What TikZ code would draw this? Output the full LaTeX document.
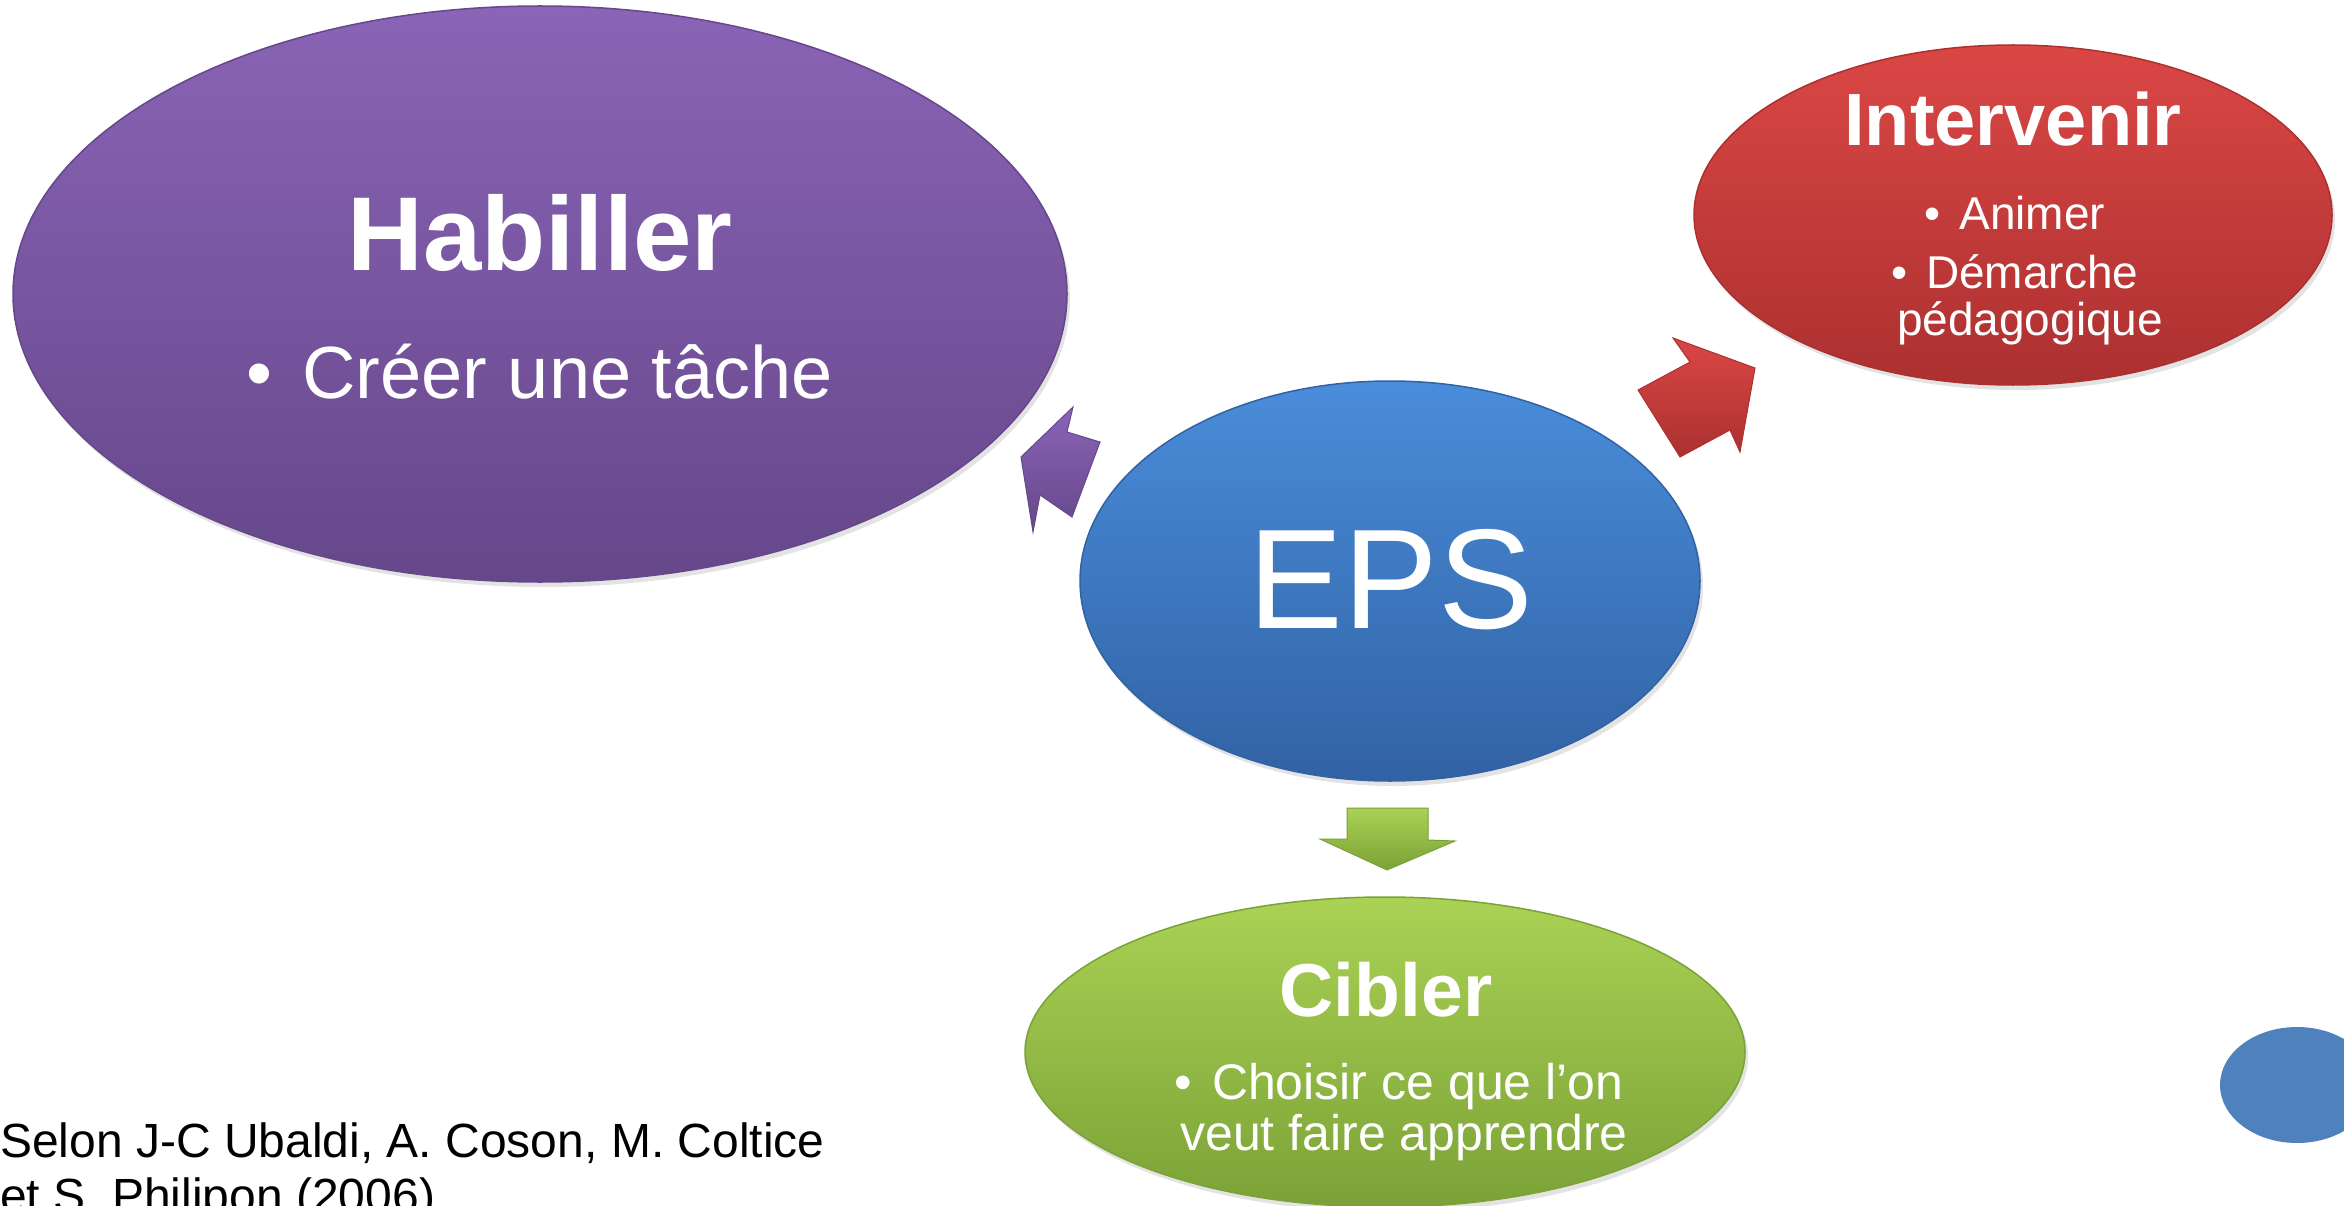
\documentclass[tikz,border=0pt]{standalone}
\usepackage{fontspec}
\setmainfont{Liberation Sans}
\usetikzlibrary{positioning, shapes.geometric, shadows}

\definecolor{violetH}{HTML}{8A64B6}
\definecolor{violetB}{HTML}{65478A}
\definecolor{rougeH}{HTML}{DA4745}
\definecolor{rougeB}{HTML}{AC3030}
\definecolor{bleuH}{HTML}{4A8DDA}
\definecolor{bleuB}{HTML}{3162A4}
\definecolor{vertH}{HTML}{AAD255}
\definecolor{vertB}{HTML}{7BA236}
\definecolor{rondbleu}{HTML}{4F81BD}

\tikzset{
	bulle/.style={ellipse, inner sep=0pt, line width=1.5pt, drop shadow={opacity=.22, shadow xshift=3pt, shadow yshift=-5pt}},
	titre/.style={text=white, font=\bfseries\fontsize{#1}{#1}\selectfont, inner sep=0pt, anchor=base},
	puce/.style={text=white, font=\fontsize{#1}{#1}\selectfont, inner sep=0pt, anchor=base},
	fleche/.style={line width=1pt, line join=miter},
}

\begin{document}
\begin{tikzpicture}[x=1pt, y=-1pt]
	\useasboundingbox (0,0) rectangle (2344,1206);
	% les bulles
	\node[bulle, minimum width=1054pt, minimum height=576pt, draw=violetB, top color=violetH, bottom color=violetB] (habiller) at (540,294) {};
	\node[bulle, minimum width=638pt, minimum height=340pt, draw=rougeB, top color=rougeH, bottom color=rougeB] (intervenir) at (2013,215) {};
	\node[bulle, minimum width=620pt, minimum height=400pt, draw=bleuB, top color=bleuH, bottom color=bleuB] (eps) at (1390,581) {};
	\node[bulle, minimum width=720pt, minimum height=310pt, draw=vertB, top color=vertH, bottom color=vertB] (cibler) at (1385,1052) {};
	\node[ellipse, minimum width=154pt, minimum height=116pt, fill=rondbleu] (rond) at (2297,1085) {};
	% les fleches
	\draw[fleche, draw=violetB, top color=violetH, bottom color=violetB] (1021,457) -- (1073,407) -- (1067,432) -- (1100,442) -- (1072,517) -- (1040,495) -- (1033,532) -- cycle;
	\draw[fleche, draw=rougeB, top color=rougeH, bottom color=rougeB] (1638,390) -- (1690,362) -- (1673,338) -- (1755,368) -- (1740,452) -- (1730,430) -- (1680,457) -- cycle;
	\draw[fleche, draw=vertB, top color=vertH, bottom color=vertB] (1347,808) -- (1428,808) -- (1428,840) -- (1455,841) -- (1387,870) -- (1320,839) -- (1347,839) -- cycle;
	% les textes
	\node[titre=105] (habT) at (540,271) {Habiller};
	\node[puce=74] (habB) at ([yshift=-127pt]habT.base) {•\hspace{.4em}Créer une tâche};
	\node[titre=74] (intT) at (2013,146) {Intervenir};
	\node[puce=46] (intB1) at ([xshift=2pt,yshift=-84pt]intT.base) {•\hspace{.4em}Animer};
	\node[puce=46] (intB2) at ([yshift=-58pt]intB1.base) {•\hspace{.4em}Démarche};
	\node[puce=46] (intB3) at ([xshift=15pt,yshift=-47pt]intB2.base) {pédagogique};
	\node[puce=142] (epsT) at (1391,628) {EPS};
	\node[titre=75] (cibT) at (1386,1016) {Cibler};
	\node[puce=50] (cibB1) at ([xshift=13pt,yshift=-83pt]cibT.base) {•\hspace{.4em}Choisir ce que l’on};
	\node[puce=50] (cibB2) at ([xshift=5pt,yshift=-51pt]cibB1.base) {veut faire apprendre};
	\node[anchor=base west, inner sep=0pt, font=\fontsize{48}{48}\selectfont] (source) at (0,1157) {Selon J-C Ubaldi, A. Coson, M. Coltice};
	\node[anchor=base west, inner sep=0pt, font=\fontsize{48}{48}\selectfont] (source2) at ([yshift=-55pt]source.base west) {et S. Philipon (2006)};
\end{tikzpicture}
\end{document}
